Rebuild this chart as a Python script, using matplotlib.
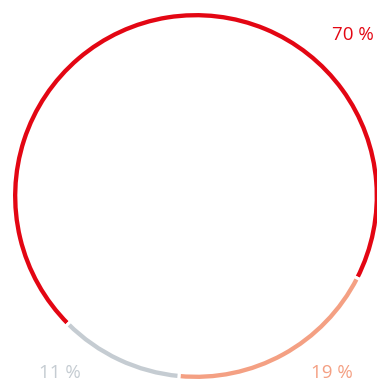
import matplotlib.pyplot as plt

# share of each segment, in percent
labels = ['70 %', '19 %', '11 %']
shares = [70, 19, 11]
colors = ['#e30613', '#f4a083', '#c5ccd2']

fig = plt.figure(figsize=(3.77, 3.83), dpi=100)
ax = fig.add_axes([0, 0, 1, 1])

R = 184.5  # pixels per data unit
cx, cy = 196, 383 - 196
ax.pie(shares, colors=colors, startangle=225, counterclock=False,
       radius=1.0, wedgeprops=dict(width=0.04, edgecolor='white', linewidth=2.2))
ax.set_xlim(-cx / R, (377 - cx) / R)
ax.set_ylim(-cy / R, (383 - cy) / R)
ax.set_aspect('auto')
ax.axis('off')

# percentage labels
pos = [(353, 35), (332, 373), (60, 373)]
for (px, py), txt, c in zip(pos, labels, colors):
    fig.text(px / 377, 1 - py / 383, txt, color=c, fontsize=13.5,
             family=['Open Sans', 'DejaVu Sans'], fontweight='normal',
             ha='center', va='center')

fig.savefig('out.png', dpi=100)
